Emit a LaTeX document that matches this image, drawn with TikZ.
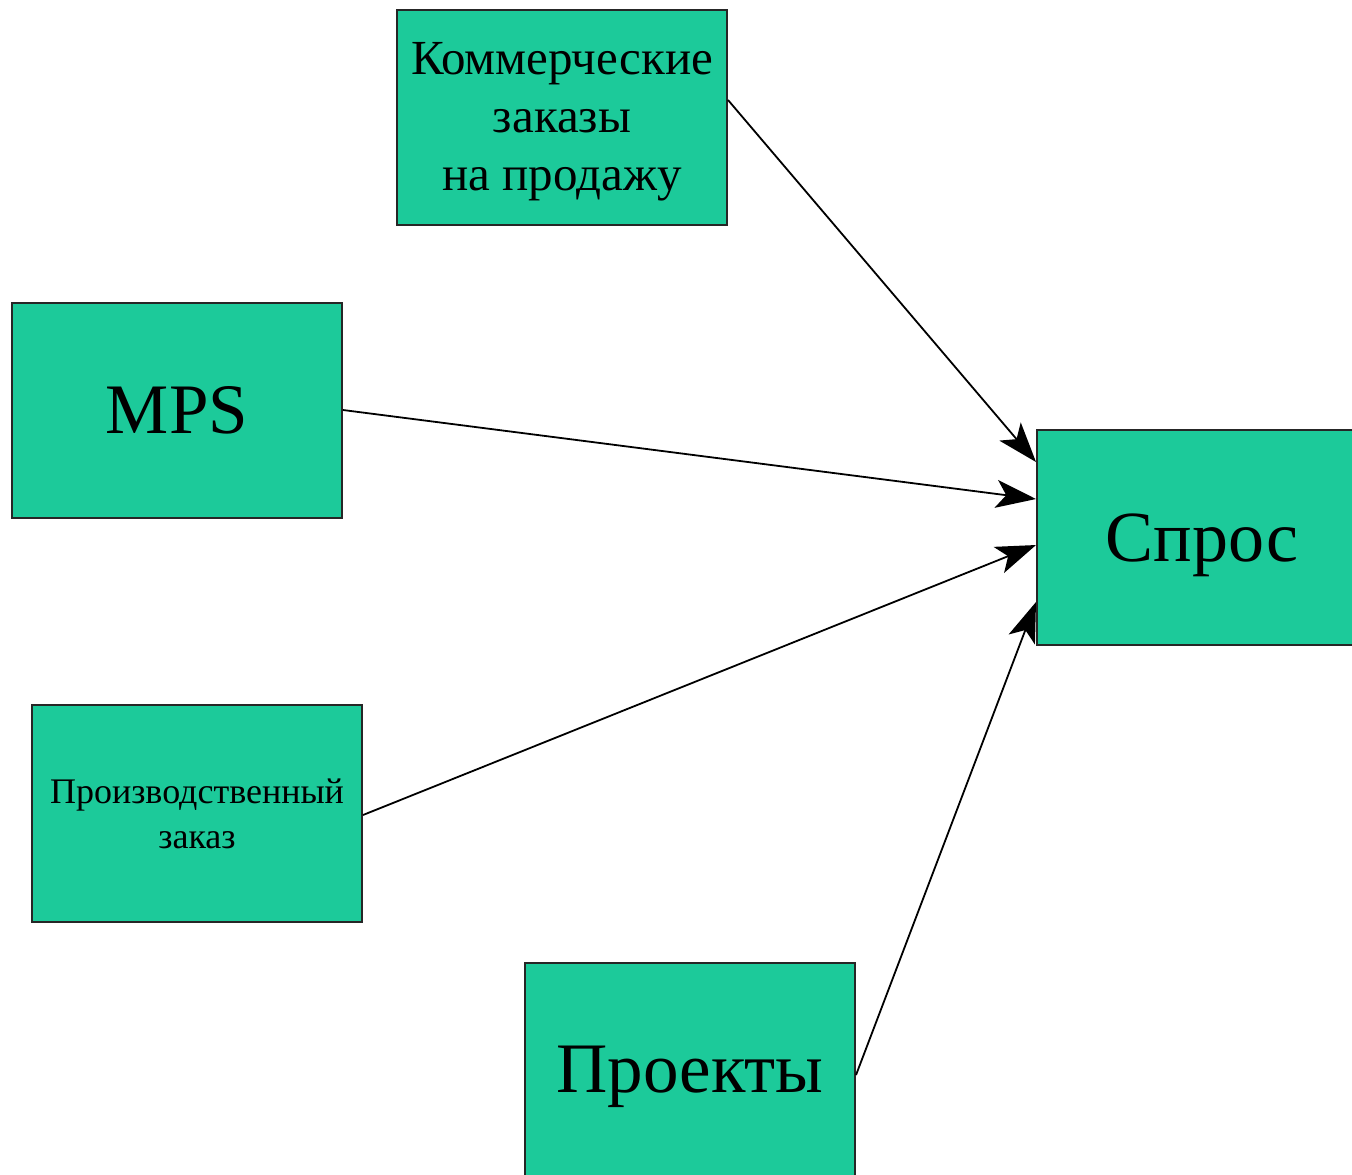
\documentclass[tikz,border=0pt]{standalone}
\usepackage{fontspec}
\setmainfont{Liberation Serif}
\usetikzlibrary{arrows.meta}
\definecolor{boxgreen}{RGB}{28,202,154}
\newcommand{\lowerby}[2]{\raisebox{-#1}[\height][\depth]{#2}}
\begin{document}
\begin{tikzpicture}[x=0.5pt,y=-0.5pt,
  box/.style={draw=black!85, line width=1pt, fill=boxgreen, minimum width=165pt, minimum height=107.5pt, inner sep=0pt, align=center},
  conn/.style={line width=0.9pt, -{Stealth[length=20pt,width=14pt,inset=5pt]}}]
\clip (0,0) rectangle (1352,1174);
\fill[white] (0,0) rectangle (1352,1174);
\node[box, font=\fontsize{24.5}{29}\selectfont] (kom) at (562,117) {\lowerby{2.5pt}{Коммерческие}\\\lowerby{2.5pt}{заказы}\\\lowerby{2.5pt}{на продажу}};
\node[box, font=\fontsize{35.5}{40}\selectfont] (mps) at (177,410.5) {MPS};
\node[box, font=\fontsize{18}{22.5}\selectfont, minimum height=108.5pt] (proizv) at (197,813.5) {Производственный\\заказ};
\node[box, font=\fontsize{35.5}{40}\selectfont] (proj) at (690,1070) {\lowerby{3.5pt}{Проекты}};
\node[box, font=\fontsize{36}{40}\selectfont] (spros) at (1202,537.5) {\lowerby{4pt}{Спрос}};
\draw[conn] (kom.east |- 0,100) -- (spros.west |- 0,462);
\draw[conn] (mps.east |- 0,410) -- (spros.west |- 0,499);
\draw[conn] (proizv.east |- 0,815) -- (spros.west |- 0,545);
\draw[conn] (proj.east |- 0,1075) -- (spros.west |- 0,602);
\end{tikzpicture}
\end{document}
